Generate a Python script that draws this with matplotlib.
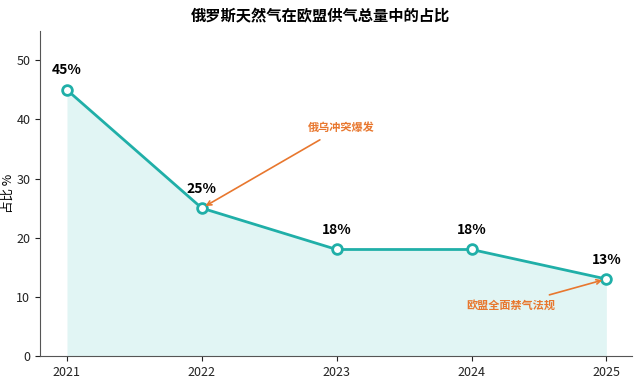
import matplotlib
matplotlib.use("Agg")
import matplotlib.pyplot as plt

plt.rcParams['font.family'] = ['Noto Sans CJK SC', 'DejaVu Sans']

years = [2021, 2022, 2023, 2024, 2025]
share = [45, 25, 18, 18, 13]
labels = ["45%", "25%", "18%", "18%", "13%"]

teal = "#20AFA8"
orange = "#E8772E"

fig = plt.figure(figsize=(6.4, 3.81), dpi=100)
ax = fig.add_axes([0.0625, 0.066, 0.925, 0.853])

ax.fill_between(years, share, 0, color="#D8F2F1", alpha=0.75, linewidth=0)
ax.plot(years, share, color=teal, linewidth=2, marker="o", markersize=7,
        markerfacecolor="white", markeredgecolor=teal, markeredgewidth=2, zorder=3)

for x, y, t in zip(years, share, labels):
    ax.annotate(t, (x, y), xytext=(0, 9), textcoords="offset points",
                ha="center", va="bottom", fontsize=10, fontweight="bold")

ax.annotate("俄乌冲突爆发", xy=(2022, 25), xytext=(2023.03, 38.6),
            ha="center", va="center", fontsize=8, fontweight="bold", color=orange,
            arrowprops=dict(arrowstyle="->", color=orange, lw=1.2,
                            shrinkA=4, shrinkB=3))
ax.annotate("欧盟全面禁气法规", xy=(2025, 13), xytext=(2024.29, 8.5),
            ha="center", va="center", fontsize=8, fontweight="bold", color=orange,
            arrowprops=dict(arrowstyle="->", color=orange, lw=1.2,
                            shrinkA=4, shrinkB=3))

ax.set_xlim(2020.8, 2025.19)
ax.set_ylim(0, 55)
ax.set_xticks(years)
ax.set_yticks([0, 10, 20, 30, 40, 50])
ax.tick_params(labelsize=9, colors="#222222")
ax.set_ylabel("占比 %", fontsize=9, labelpad=1)
ax.spines['top'].set_visible(False)
ax.spines['right'].set_visible(False)
ax.spines['left'].set_color("#555555")
ax.spines['bottom'].set_color("#555555")

fig.suptitle("俄罗斯天然气在欧盟供气总量中的占比", fontsize=11, fontweight="bold", y=0.98)

fig.savefig("out.png", dpi=100)
